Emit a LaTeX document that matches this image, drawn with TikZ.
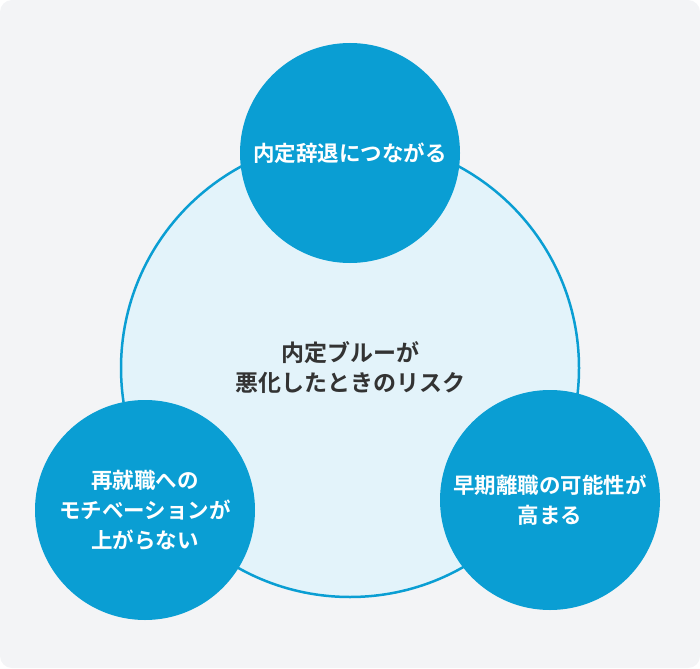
\documentclass[tikz,border=0pt]{standalone}
\usepackage{fontspec}
\newfontfamily\jpfont{Noto Sans CJK JP}[BoldFont={Noto Sans CJK JP Bold}]
\usepackage{tikz}
\definecolor{riskblue}{HTML}{0A9ED3}
\definecolor{risklight}{HTML}{E3F3FA}
\definecolor{riskbg}{HTML}{F3F4F6}
\definecolor{risktext}{HTML}{333333}
\tikzset{%
  riskball/.style={circle,fill=riskblue,minimum size=220pt,inner sep=0pt,
    text=white,font=\jpfont\bfseries\fontsize{21.5}{30}\selectfont,align=center},
}

\begin{document}
\begin{tikzpicture}[x=1pt,y=-1pt]
      \useasboundingbox (0,0) rectangle (700,668);
      \fill [riskbg,rounded corners=12pt] (0,0) rectangle (700,668);
      \node [circle,draw=riskblue,line width=2.5pt,fill=risklight,minimum size=458pt,
        text=risktext,font=\jpfont\bfseries\fontsize{23}{30}\selectfont,align=center]
        (core) at (350,368) {内定ブルーが\\悪化したときのリスク};
      \node [riskball] (decline) at (350,153) {内定辞退につながる};
      \node [riskball] (motive) at (145,510) {再就職への\\モチベーションが\\上がらない};
      \node [riskball] (leave) at (550,500) {早期離職の可能性が\\高まる};
    \end{tikzpicture}
\end{document}
